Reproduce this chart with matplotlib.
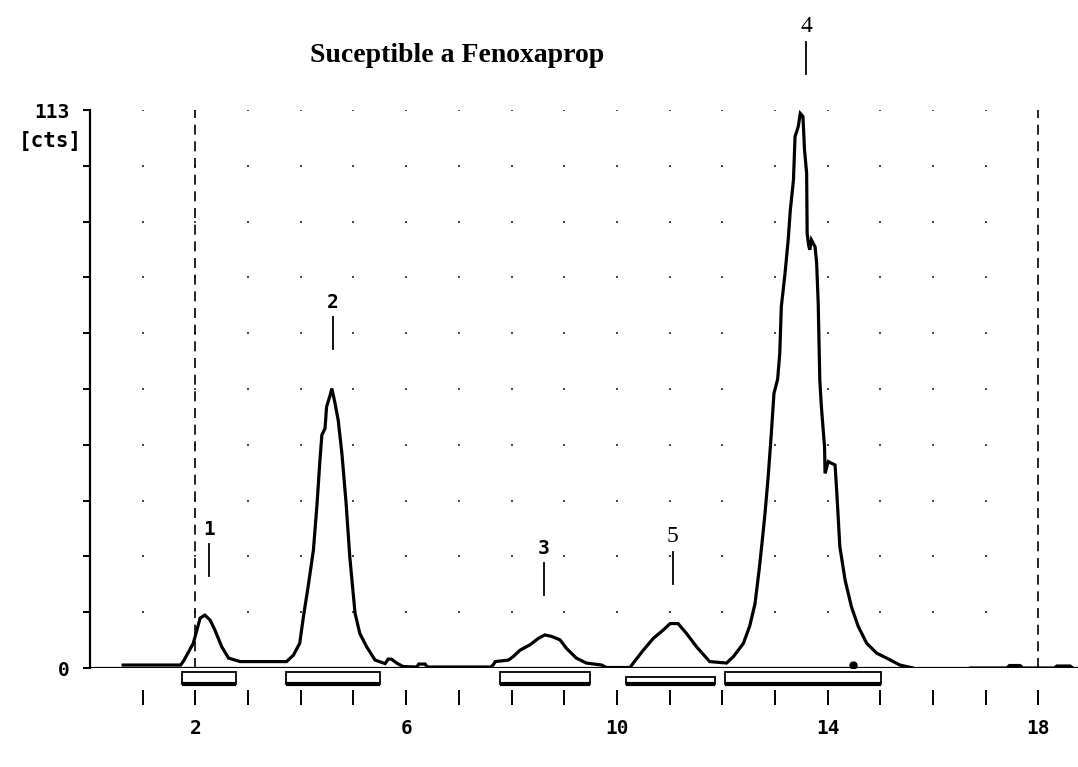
import matplotlib
matplotlib.use('Agg')
import matplotlib.pyplot as plt
from matplotlib.patches import Rectangle

# ---------------- data ----------------
title = "Suceptible a Fenoxaprop"
y_max = 113
y_unit = "[cts]"

# chromatogram trace (retention time, counts)
rt = [0.63, 1.72, 1.78, 1.96, 2.09, 2.18, 2.28, 2.37, 2.50, 2.63, 2.85, 3.73,
      3.86, 3.98, 4.05, 4.14, 4.24, 4.31, 4.36, 4.40, 4.46, 4.49, 4.55, 4.59,
      4.65, 4.71, 4.78, 4.86, 4.93, 5.03, 5.12, 5.25, 5.41, 5.60, 5.66, 5.72,
      5.82, 5.94, 6.20, 6.24, 6.36, 6.40, 7.60, 7.65, 7.69, 7.94, 8.03, 8.16,
      8.35, 8.51, 8.63, 8.76, 8.92, 9.04, 9.23, 9.42, 9.71, 9.80, 10.25, 10.31,
      10.50, 10.69, 10.88, 11.01, 11.16, 11.32, 11.51, 11.76, 12.08, 12.21, 12.40,
      12.52, 12.62, 12.70, 12.76, 12.81, 12.87, 12.93, 12.98, 13.05, 13.09, 13.12,
      13.19, 13.25, 13.29, 13.35, 13.38, 13.44, 13.48, 13.53, 13.56, 13.60, 13.61,
      13.64, 13.66, 13.69, 13.76, 13.79, 13.82, 13.85, 13.88, 13.94, 13.95, 14.01,
      14.14, 14.17, 14.23, 14.33, 14.45, 14.58, 14.74, 14.93, 15.12, 15.37, 15.62,
      15.66, 16.65, 16.70, 17.40, 17.45, 17.65, 17.70, 18.30, 18.35, 18.60, 18.65]
cts = [0.6, 0.6, 1.5, 5.0, 10.1, 10.7, 9.7, 7.7, 4.3, 2.0, 1.3, 1.3,
       2.6, 5.0, 10.4, 16.5, 23.9, 33.4, 41.5, 47.2, 48.5, 52.9, 55.0, 56.6,
       53.6, 50.2, 43.5, 33.4, 22.5, 11.1, 7.0, 4.3, 1.6, 0.9, 1.8, 1.8,
       1.0, 0.3, 0.2, 0.8, 0.8, 0.2, 0.2, 0.6, 1.3, 1.6, 2.3, 3.6,
       4.7, 6.0, 6.7, 6.4, 5.7, 4.0, 2.0, 1.0, 0.6, 0.1, 0.1, 1.0,
       3.6, 6.0, 7.7, 9.0, 9.0, 7.0, 4.3, 1.3, 1.0, 2.3, 5.0,
       8.5, 13.0, 20.0, 26.0, 31.3, 38.7, 47.5, 55.6, 58.5, 63.7, 73.2,
       79.9, 86.7, 92.7, 98.8, 107.6, 109.6, 112.3, 111.7, 104.9, 100.2, 88.0,
       85.5, 84.7, 86.7, 85.3, 82.0, 73.8, 58.3, 52.9, 44.8, 39.4, 41.8,
       41.1, 36.0, 24.6, 17.8, 12.4, 8.4, 5.0, 3.0, 2.0, 0.6, 0.0,
       -0.5, -0.5, 0.0, 0.0, 0.5, 0.5, 0.0, 0.0, 0.4, 0.4, 0.0]

# peak labels
peak_ids = ["1", "2", "3", "4", "5"]
peak_rt = [2.26, 4.61, 8.61, 13.59, 11.06]
peak_top = [10.7, 56.6, 6.7, 112.3, 9.0]

# integration windows (start, end)
win_start = [1.74, 3.72, 7.78, 10.18, 12.05]
win_end = [2.78, 5.50, 9.49, 11.86, 15.02]
win_drop = [0.0, 0.0, 0.0, 1.1, 0.0]

# split marker on baseline
split_rt = [14.48]
split_y = [0.7]

x_ticks = list(range(1, 19))
x_labeled = [2, 6, 10, 14, 18]
ref_lines = [2, 18]

# ---------------- figure ----------------
W, H = 1078, 767
fig = plt.figure(figsize=(W / 100, H / 100), dpi=100)
ax = fig.add_axes([90 / W, 1 - 668 / H, (W - 90) / W, (668 - 110) / H])
ax.set_xlim(0, 18.75)
ax.set_ylim(0, y_max)

mono = 'DejaVu Sans Mono'

# grid dots
y_ticks = [y_max * k / 10 for k in range(11)]
gx = [x for x in x_ticks if x < 18 for _ in y_ticks[1:]]
gy = [y for x in x_ticks if x < 18 for y in y_ticks[1:]]
ax.scatter(gx, gy, s=4, color='#4a4a4a', marker='s', linewidths=0, zorder=1)

# dashed reference lines
for xr in ref_lines:
    ax.axvline(xr, color='black', lw=1.2, ls=(0, (6, 4)), zorder=2)

# baseline
ax.axhline(0, color='black', lw=1.6, zorder=3)

# trace
ax.plot(rt, cts, color='black', lw=2.3, solid_joinstyle='miter', zorder=4)
ax.plot(split_rt, split_y, 'o', color='black', ms=5, zorder=5)

# integration windows
for s, e, d in zip(win_start, win_end, win_drop):
    top = -0.8 - d
    bot = -3.3
    ax.add_patch(Rectangle((s, bot), e - s, top - bot, fill=False,
                           lw=1.3, edgecolor='black', clip_on=False, zorder=3))
    ax.plot([s, e], [bot, bot], color='black', lw=3, clip_on=False,
            solid_capstyle='butt', zorder=3)

# peak labels
for pid, prt, ptop in zip(peak_ids, peak_rt, peak_top):
    ax.plot([prt, prt], [ptop + 8, ptop + 14.5], color='black', lw=1.3,
            clip_on=False)
    if pid in ("4", "5"):
        ax.text(prt, ptop + 15.5, pid, ha='center', va='bottom',
                family='Liberation Serif', fontsize=17, clip_on=False)
    else:
        ax.text(prt, ptop + 15.5, pid, ha='center', va='bottom',
                family=mono, fontweight='bold', fontsize=14, clip_on=False)

# spines / ticks
for sp in ('top', 'right'):
    ax.spines[sp].set_visible(False)
ax.spines['left'].set_linewidth(1.6)
ax.spines['bottom'].set_position(('outward', 16))
ax.spines['bottom'].set_visible(False)

ax.set_xticks(x_ticks)
ax.set_xticklabels([str(x) if x in x_labeled else '' for x in x_ticks],
                   family=mono, fontweight='bold', fontsize=14)
ax.tick_params(axis='x', direction='out', length=10.5, width=1.4, pad=10)

ax.set_yticks(y_ticks)
ax.set_yticklabels(['0'] + [''] * 9 + [str(y_max)], family=mono,
                   fontweight='bold', fontsize=14)
ax.tick_params(axis='y', direction='out', length=5, width=1.4, pad=10)

fig.text(82 / W, 1 - 141 / H, y_unit, ha='right', va='center',
         family=mono, fontweight='bold', fontsize=15)

fig.text(457 / W, 1 - 55 / H, title, ha='center', va='center',
         family='Liberation Serif', fontweight='bold', fontsize=20)

fig.savefig('out.png', dpi=100)
